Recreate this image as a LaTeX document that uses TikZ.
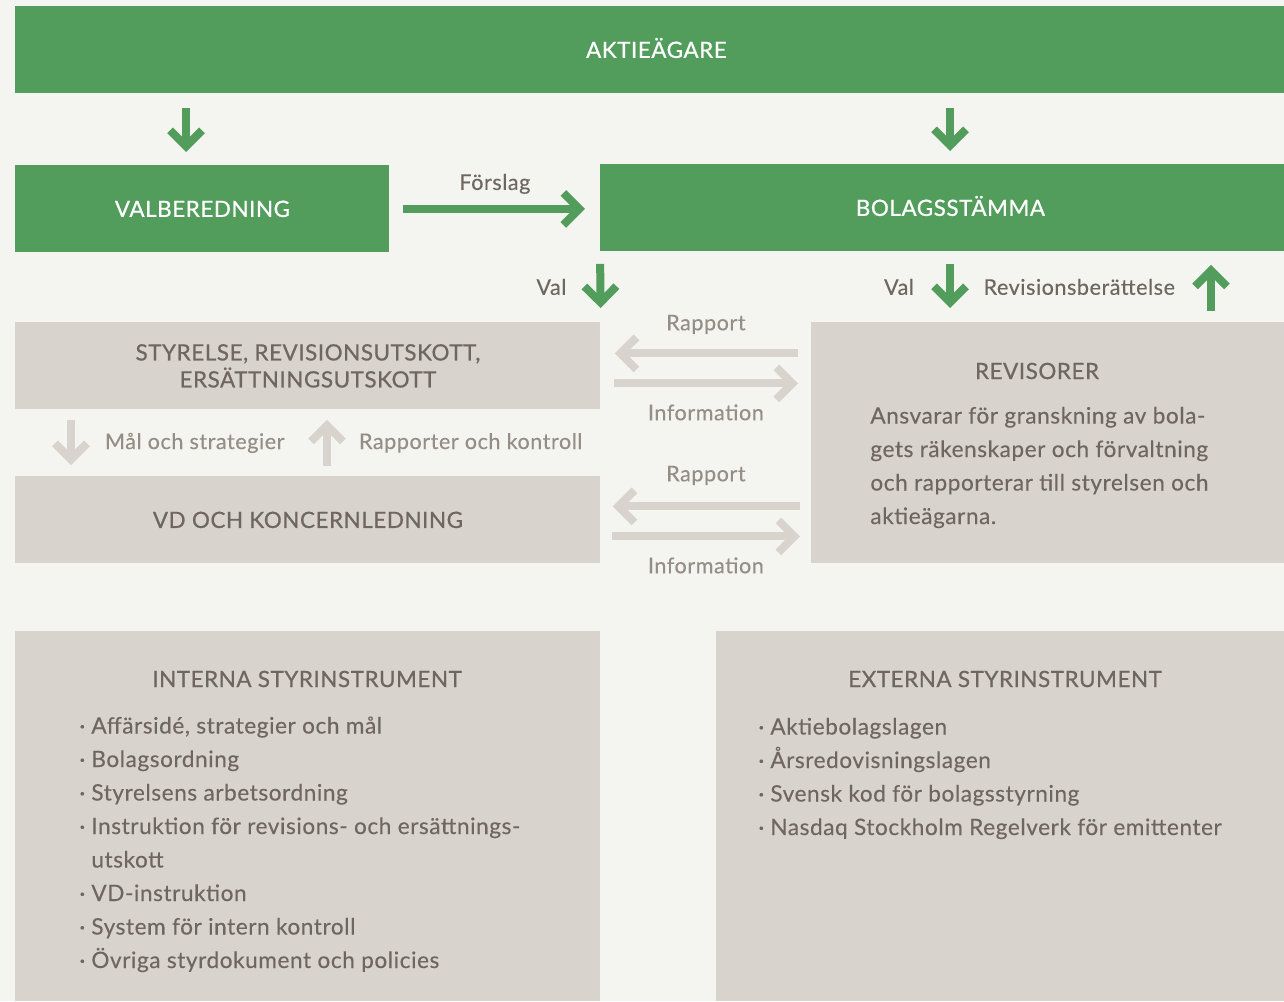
\documentclass[tikz,border=0pt]{standalone}
\usepackage{fontspec}
\setmainfont{Lato}[LetterSpace=2.5, FakeBold=0.25]
\newfontfamily\semifont{Lato}[LetterSpace=2.5, FakeBold=0.7]
\usetikzlibrary{arrows.meta, calc, positioning}

\definecolor{aktgreen}{HTML}{529D5C}
\definecolor{boxgrey}{HTML}{D8D3CC}
\definecolor{bggrey}{HTML}{F4F4F0}
\definecolor{txtgrey}{HTML}{6E675F}
\definecolor{lbgrey}{HTML}{958E86}

\newcommand\headfont{\semifont\fontsize{11.2}{13.5}\selectfont}
\newcommand\bodyfont{\fontsize{11.3}{16.75}\selectfont}
\newcommand\labelfont{\fontsize{10.8}{13}\selectfont}
\newcommand\listdot{\makebox[6pt][l]{·}}

\begin{document}
\begin{tikzpicture}[x=0.5pt, y=-0.5pt,
    greenbox/.style={fill=aktgreen, text=white, anchor=north west, inner sep=0pt, font=\headfont, minimum height=43.5pt, text height=8pt, text depth=0pt},
    greybox/.style={fill=boxgrey, text=txtgrey, anchor=north west, inner sep=0pt, font=\headfont, align=center},
    boxtitle/.style={text=txtgrey, font=\headfont, inner sep=0pt},
    bodytext/.style={text=txtgrey, font=\bodyfont, inner sep=0pt, align=left, anchor=base west},
    garrow/.style={draw=aktgreen, line width=4pt, -{Straight Barb[length=8pt, width=16pt, sharp]}},
    larrow/.style={draw=boxgrey, line width=4pt, -{Straight Barb[length=8pt, width=16pt, sharp]}},
    dlabel/.style={text=txtgrey, font=\labelfont, inner sep=0pt},
    llabel/.style={text=lbgrey, font=\labelfont, inner sep=0pt}]

  \fill[bggrey] (0,0) rectangle (1284,1001);
  \useasboundingbox (0,0) rectangle (1284,1001);

  % green boxes
  \node[greenbox, minimum width=634.5pt] (aktie) at (15,6) {\hspace*{6.5pt}AKTIEÄGARE};
  \node[greenbox, minimum width=187pt] (valb) at (15,165) {VALBEREDNING};
  \node[greenbox, minimum width=342pt] (stamma) at (600,164) {\hspace*{8pt}BOLAGSSTÄMMA};

  % grey boxes
  \node[greybox, minimum width=292.5pt, minimum height=43.5pt] (styrelse) at (15,322) {STYRELSE, REVISIONSUTSKOTT,\\ERSÄTTNINGSUTSKOTT};
  \node[greybox, minimum width=292.5pt, minimum height=43.5pt] (vd) at (15,476) {VD OCH KONCERNLEDNING};
  \node[greybox, minimum width=236.5pt, minimum height=120.5pt] (rev) at (811,322) {};
  \node[boxtitle] (revtitle) at (1037,371) {REVISORER};
  % base = last line
  \node[bodytext] (revtext) at (870,524) {Ansvarar för granskning av bola-\\gets räkenskaper och förvaltning\\och rapporterar till styrelsen och\\aktieägarna.};

  \node[greybox, minimum width=292.5pt, minimum height=185pt] (interna) at (15,631) {};
  \node[greybox, minimum width=284pt, minimum height=185pt] (externa) at (716,631) {};
  \node[boxtitle] (inttitle) at (307,679) {INTERNA STYRINSTRUMENT};
  \node[boxtitle] (exttitle) at (1005,679) {EXTERNA STYRINSTRUMENT};
  \node[bodytext] (intlist) at (79,968) {\listdot Affärsidé, strategier och mål\\
    \listdot Bolagsordning\\
    \listdot Styrelsens arbetsordning\\
    \listdot Instruktion för revisions- och ersättnings-\\
    \hspace*{6pt}utskott\\
    \listdot VD-instruktion\\
    \listdot System för intern kontroll\\
    \listdot Övriga styrdokument och policies};
  \node[bodytext] (extlist) at (758,835) {\listdot Aktiebolagslagen\\
    \listdot Årsredovisningslagen\\
    \listdot Svensk kod för bolagsstyrning\\
    \listdot Nasdaq Stockholm Regelverk för emittenter};

  % green arrows
  \draw[garrow, shorten <=7pt, shorten >=6.5pt] ([xshift=85.5pt]aktie.south west) -- ([xshift=85.5pt]valb.north west);
  \draw[garrow, shorten <=7pt, shorten >=6.5pt] ([xshift=467.5pt]aktie.south west) -- ([xshift=175pt]stamma.north west);
  \draw[garrow, shorten <=6.5pt, shorten >=7.5pt] (valb.east) -- (valb.east -| stamma.west) node[dlabel, midway, yshift=12.5pt] {Förslag};
  \draw[garrow, shorten <=6pt, shorten >=7pt] (stamma.south west) -- (styrelse.north east) node[dlabel, midway, left=15pt] {Val};
  \draw[garrow, shorten <=6pt, shorten >=7pt] ([xshift=175pt]stamma.south west) -- ([xshift=69.5pt]rev.north west) node[dlabel, midway, left=16pt] {Val};
  \draw[garrow, shorten <=5.5pt, shorten >=6.5pt] ([xshift=200pt]rev.north west) -- ([xshift=305.5pt]stamma.south west) node[dlabel, midway, left=16pt] {Revisionsberättelse};

  % grey arrows
  \draw[larrow, shorten <=6.5pt, shorten >=7pt] ($(styrelse.east -| rev.west)+(0,6.25pt)$) -- ($(styrelse.east)+(0,6.25pt)$) node[llabel, midway, yshift=14.5pt] {Rapport};
  \draw[larrow, shorten <=6.5pt, shorten >=6.5pt] ($(styrelse.east)+(0,-8.75pt)$) -- ($(styrelse.east -| rev.west)+(0,-8.75pt)$) node[llabel, midway, yshift=-14.5pt] {Information};
  \draw[larrow, shorten <=5.5pt, shorten >=6pt] ($(vd.east -| rev.west)+(0,6.75pt)$) -- ($(vd.east)+(0,6.75pt)$) node[llabel, midway, yshift=15.5pt] {Rapport};
  \draw[larrow, shorten <=5.5pt, shorten >=5.5pt] ($(vd.east)+(0,-8.25pt)$) -- ($(vd.east -| rev.west)+(0,-8.25pt)$) node[llabel, midway, yshift=-14.5pt] {Information};
  \draw[larrow, shorten <=5pt, shorten >=5.5pt] ([xshift=28pt]styrelse.south west) -- ([xshift=28pt]vd.north west) node[llabel, midway, right=15pt] {Mål och strategier};
  \draw[larrow, shorten <=5pt, shorten >=5pt] ([xshift=156pt]vd.north west) -- ([xshift=156pt]styrelse.south west) node[llabel, midway, right=14pt] {Rapporter och kontroll};
\end{tikzpicture}
\end{document}
